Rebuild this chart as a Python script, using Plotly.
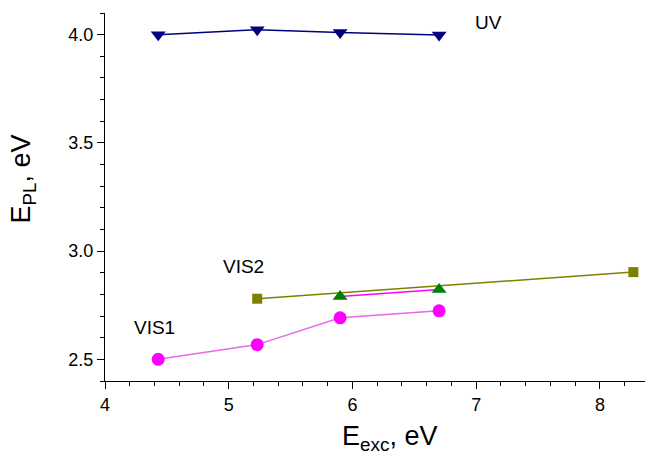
import plotly.graph_objects as go

# Data
uv_x = [4.43, 5.23, 5.90, 6.70]
uv_y = [4.000, 4.023, 4.010, 3.998]

vis1_x = [4.43, 5.23, 5.90, 6.70]
vis1_y = [2.500, 2.568, 2.692, 2.724]

vis2_sq_x = [5.23, 8.27]
vis2_sq_y = [2.780, 2.903]

vis2_tri_x = [5.90, 6.70]
vis2_tri_y = [2.790, 2.823]

x_ticks = [4, 5, 6, 7, 8]
y_ticks = [2.5, 3.0, 3.5, 4.0]
y_tick_labels = ["2.5", "3.0", "3.5", "4.0"]

FONT = "Liberation Sans, Arial, sans-serif"

fig = go.Figure()
fig.add_trace(go.Scatter(x=uv_x, y=uv_y, mode="lines+markers", cliponaxis=False,
                         line=dict(color="#000080", width=1.5),
                         marker=dict(symbol="triangle-down", size=13, color="#000080")))
fig.add_trace(go.Scatter(x=vis1_x, y=vis1_y, mode="lines+markers", cliponaxis=False,
                         line=dict(color="#E868E8", width=1.5),
                         marker=dict(symbol="circle", size=13, color="#FF00FF")))
fig.add_trace(go.Scatter(x=vis2_sq_x, y=vis2_sq_y, mode="lines+markers", cliponaxis=False,
                         line=dict(color="#808000", width=1.5),
                         marker=dict(symbol="square", size=10, color="#808000")))
fig.add_trace(go.Scatter(x=vis2_tri_x, y=vis2_tri_y, mode="lines+markers", cliponaxis=False,
                         line=dict(color="#FF00FF", width=1.5),
                         marker=dict(symbol="triangle-up", size=13, color="#008000")))

for txt, x, y in [("UV", 7.1, 4.057), ("VIS2", 5.12, 2.93), ("VIS1", 4.40, 2.647)]:
    fig.add_annotation(x=x, y=y, text=txt, showarrow=False,
                       font=dict(family=FONT, size=19, color="black"))

# Axis titles
fig.add_annotation(xref="paper", yref="paper", x=0.527, y=-0.155, xanchor="center", yanchor="middle",
                   text="E<sub>exc</sub>, eV", showarrow=False,
                   font=dict(family=FONT, size=27, color="black"))
fig.add_annotation(xref="paper", yref="paper", x=-0.152, y=0.55, xanchor="center", yanchor="middle",
                   text="E<sub>PL</sub>, eV", showarrow=False, textangle=-90,
                   font=dict(family=FONT, size=27, color="black"))

fig.update_layout(
    width=645, height=464,
    margin=dict(l=105, r=0, t=13, b=83, autoexpand=False),
    paper_bgcolor="white", plot_bgcolor="white",
    showlegend=False,
    font=dict(family=FONT, color="black"),
)
fig.update_xaxes(range=[4, 8.364], tickvals=x_ticks, ticks="outside", ticklen=7,
                 tickcolor="black", showline=True, linecolor="black", linewidth=1,
                 showgrid=False, zeroline=False, automargin=False,
                 tickfont=dict(family=FONT, size=18),
                 minor=dict(dtick=0.2, ticks="outside", ticklen=4, tickcolor="black"))
fig.update_yaxes(range=[2.4, 4.1], tickvals=y_ticks, ticktext=y_tick_labels, ticks="outside",
                 ticklen=7, tickcolor="black", showline=True, linecolor="black", linewidth=1,
                 showgrid=False, zeroline=False, automargin=False,
                 tickfont=dict(family=FONT, size=18),
                 minor=dict(dtick=0.1, ticks="outside", ticklen=4, tickcolor="black"))

fig.write_html("out.html", config={"displayModeBar": False},
               post_script="document.body.style.margin='0';document.body.style.overflow='hidden';")
